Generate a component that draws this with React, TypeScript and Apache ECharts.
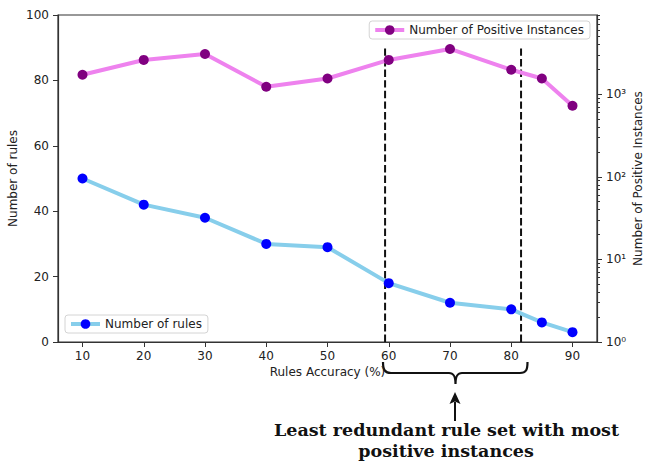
import React, { useEffect, useRef } from "react";
import * as echarts from "echarts";

const xValues = [10, 20, 30, 40, 50, 60, 70, 80, 85, 90];
const numberOfRules = [50, 42, 38, 30, 29, 18, 12, 10, 6, 3];
const positiveInstances = [1720, 2600, 3070, 1230, 1550, 2600, 3530, 1980, 1550, 725];
const xTickValues = [10, 20, 30, 40, 50, 60, 70, 80, 90];
const logMajorTicks = [1, 10, 100, 1000];
const logMinorTicks = [
  2, 3, 4, 5, 6, 7, 8, 9,
  20, 30, 40, 50, 60, 70, 80, 90,
  200, 300, 400, 500, 600, 700, 800, 900,
  2000, 3000, 4000, 5000, 6000, 7000, 8000, 9000,
];
const boundaryX = [59.4, 81.6];
const boundaryTop = 90;
const annotationLine1 = "Least redundant rule set with most";
const annotationLine2 = "positive instances";

const SUP = ["⁰", "¹", "²", "³", "⁴"];

const braceD =
  "M383 362 C383 370 385 373 391 373 L449 373 C453 373 455.5 375 455.5 384 C455.5 375 458 373 462 373 L520 373 C526 373 527.5 370 527.5 362";
echarts.graphic.registerShape("brace", echarts.graphic.extendPath(braceD, {}));

const FONT = "DejaVu Sans";
const TXT = "#222";
const AX = "#333";

function legendBox(extra: any) {
  return {
    orient: "horizontal",
    padding: [3, 6, 3, 4],
    itemWidth: 29,
    itemHeight: 12,
    borderColor: "#d4d4d4",
    borderWidth: 1,
    borderRadius: 3,
    backgroundColor: "rgba(255,255,255,0.85)",
    lineStyle: { width: 4 },
    textStyle: { fontFamily: FONT, fontSize: 12, color: TXT },
    ...extra,
  };
}

export default function App() {
  const ref = useRef<HTMLDivElement>(null);
  useEffect(() => {
    if (!ref.current) return;
    const chart = echarts.init(ref.current, null, { renderer: "svg" });
    const rulesData = xValues.map((x, i) => [x, numberOfRules[i]]);
    const posData = xValues.map((x, i) => [x, positiveInstances[i]]);
    const dashSeries = boundaryX.map((bx, i) => ({
      type: "line",
      name: "boundary" + i,
      xAxisIndex: 0,
      yAxisIndex: 0,
      data: [
        [bx, 0],
        [bx, boundaryTop],
      ],
      showSymbol: false,
      symbol: "none",
      lineStyle: { color: "#111", width: 2, type: [7.4, 3.2] },
      silent: true,
      z: 1,
    }));
    const option: any = {
      animation: false,
      grid: {
        left: 58,
        right: 48,
        top: 15,
        bottom: 121,
        show: true,
        borderColor: AX,
        borderWidth: 1.2,
        backgroundColor: "transparent",
        outerBoundsMode: "none",
      },
      legend: [
        legendBox({ data: ["Number of Positive Instances"], right: 55, top: 21 }),
        legendBox({ data: ["Number of rules"], left: 65, top: 315 }),
      ],
      xAxis: {
        type: "value",
        min: 6,
        max: 94,
        name: "Rules Accuracy (%)",
        nameLocation: "middle",
        nameGap: 24,
        nameMoveOverlap: false,
        nameTextStyle: { fontFamily: FONT, fontSize: 12, color: TXT },
        axisLine: { show: true, lineStyle: { color: AX, width: 1.2 } },
        axisTick: { show: true, length: 5, customValues: xTickValues, lineStyle: { color: AX } },
        axisLabel: {
          customValues: xTickValues,
          margin: 8,
          fontFamily: FONT,
          fontSize: 12,
          color: TXT,
        },
        splitLine: { show: false },
      },
      yAxis: [
        {
          type: "value",
          min: 0,
          max: 100,
          interval: 20,
          position: "left",
          name: "Number of rules",
          nameLocation: "middle",
          nameGap: 39,
          nameRotate: 90,
          nameMoveOverlap: false,
          nameTextStyle: { fontFamily: FONT, fontSize: 12, color: TXT },
          axisLine: { show: true, lineStyle: { color: AX, width: 1.2 } },
          axisTick: { show: true, length: 5, lineStyle: { color: AX } },
          axisLabel: { margin: 9, fontFamily: FONT, fontSize: 12, color: TXT },
          splitLine: { show: false },
        },
        {
          type: "log",
          logBase: 10,
          min: 1,
          max: 9100,
          position: "right",
          name: "Number of Positive Instances",
          nameLocation: "middle",
          nameGap: 35,
          nameRotate: 90,
          nameMoveOverlap: false,
          nameTextStyle: { fontFamily: FONT, fontSize: 12, color: TXT },
          axisLine: { show: true, lineStyle: { color: AX, width: 1.2 } },
          axisTick: { show: true, length: 5, customValues: logMajorTicks, lineStyle: { color: AX } },
          axisLabel: {
            customValues: logMajorTicks,
            margin: 9,
            fontFamily: FONT,
            fontSize: 12,
            color: TXT,
            formatter: (v: number) => "10" + SUP[Math.round(Math.log10(v))],
          },
          splitLine: { show: false },
        },
        {
          type: "log",
          logBase: 10,
          min: 1,
          max: 9100,
          position: "right",
          axisLine: { show: false },
          axisTick: { show: true, length: 3, customValues: logMinorTicks, lineStyle: { color: AX } },
          axisLabel: { show: false },
          splitLine: { show: false },
        },
      ],
      series: [
        ...dashSeries,
        {
          type: "line",
          name: "Number of Positive Instances",
          xAxisIndex: 0,
          yAxisIndex: 1,
          data: posData,
          symbol: "circle",
          symbolSize: 10,
          showSymbol: true,
          lineStyle: { color: "#EE82EE", width: 4 },
          itemStyle: { color: "#800080" },
          z: 3,
        },
        {
          type: "line",
          name: "Number of rules",
          xAxisIndex: 0,
          yAxisIndex: 0,
          data: rulesData,
          symbol: "circle",
          symbolSize: 10,
          showSymbol: true,
          lineStyle: { color: "#87CEEB", width: 4 },
          itemStyle: { color: "#0000FF" },
          z: 3,
        },
      ],
      graphic: [
        {
          type: "brace",
          x: 0,
          y: 0,
          shape: {},
          style: { stroke: "#111", fill: "none", lineWidth: 2.2 },
          silent: true,
        },
        {
          type: "line",
          shape: { x1: 455, y1: 402, x2: 455, y2: 421 },
          style: { stroke: "#111", lineWidth: 2 },
          silent: true,
        },
        {
          type: "polygon",
          shape: { points: [[455, 392], [449.5, 404], [455, 401.5], [460.5, 404]] },
          style: { fill: "#111" },
          silent: true,
        },
        {
          type: "text",
          x: 446.5,
          y: 430,
          style: {
            text: annotationLine1,
            fontFamily: "DejaVu Serif",
            fontWeight: "bold",
            fontSize: 17.5,
            fill: "#111",
            align: "center",
            verticalAlign: "middle",
          },
          silent: true,
        },
        {
          type: "text",
          x: 446,
          y: 451,
          style: {
            text: annotationLine2,
            fontFamily: "DejaVu Serif",
            fontWeight: "bold",
            fontSize: 17.5,
            fill: "#111",
            align: "center",
            verticalAlign: "middle",
          },
          silent: true,
        },
      ],
    };
    chart.setOption(option);
    return () => chart.dispose();
  }, []);
  return (
    <div
      ref={ref}
      style={{ position: "fixed", left: 0, top: 0, width: 645, height: 463, background: "#fff" }}
    />
  );
}
